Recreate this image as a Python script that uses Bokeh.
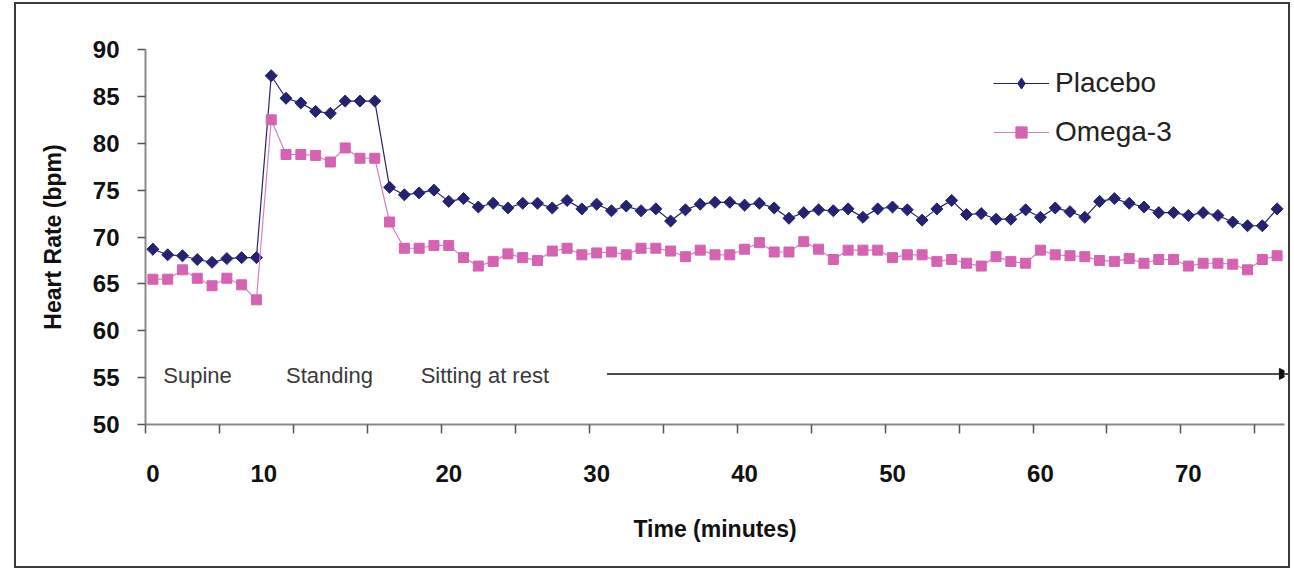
import math
from bokeh.plotting import figure
from bokeh.models import (Range1d, FixedTicker, Legend, LegendItem, Label, Arrow,
                          NormalHead)
from bokeh.embed import file_html
from bokeh.resources import INLINE

# ---------------- data ----------------
time_min = list(range(77))
placebo = [68.7, 68.1, 68.0, 67.6, 67.3, 67.7, 67.8, 67.8, 87.2, 84.8,
           84.3, 83.4, 83.2, 84.5, 84.5, 84.5, 75.3, 74.5, 74.7, 75.0,
           73.8, 74.1, 73.2, 73.6, 73.1, 73.6, 73.6, 73.1, 73.9, 73.0,
           73.5, 72.8, 73.3, 72.8, 73.0, 71.7, 72.9, 73.5, 73.7, 73.7,
           73.4, 73.6, 73.1, 72.0, 72.6, 72.9, 72.8, 73.0, 72.1, 73.0,
           73.2, 72.9, 71.8, 73.0, 73.9, 72.4, 72.5, 71.9, 71.9, 72.9,
           72.1, 73.1, 72.7, 72.1, 73.8, 74.1, 73.6, 73.2, 72.6, 72.6,
           72.3, 72.6, 72.3, 71.6, 71.2, 71.2, 73.0]
omega3 = [65.5, 65.5, 66.5, 65.6, 64.8, 65.6, 64.9, 63.3, 82.5, 78.8,
          78.8, 78.7, 78.0, 79.5, 78.4, 78.4, 71.6, 68.8, 68.8, 69.1,
          69.1, 67.8, 66.9, 67.4, 68.2, 67.8, 67.5, 68.5, 68.8, 68.1,
          68.3, 68.4, 68.1, 68.8, 68.8, 68.5, 67.9, 68.6, 68.1, 68.1,
          68.7, 69.4, 68.4, 68.4, 69.5, 68.7, 67.6, 68.6, 68.6, 68.6,
          67.8, 68.1, 68.1, 67.4, 67.6, 67.2, 66.9, 67.9, 67.4, 67.2,
          68.6, 68.1, 68.0, 67.9, 67.5, 67.4, 67.7, 67.2, 67.6, 67.6,
          66.9, 67.2, 67.2, 67.1, 66.5, 67.6, 68.0]
x_tick_labels = ["0", "10", "20", "30", "40", "50", "60", "70"]
y_ticks = [50, 55, 60, 65, 70, 75, 80, 85, 90]
phase_labels = ["Supine", "Standing", "Sitting at rest"]

# ---------------- layout / style ----------------
FONT = "Liberation Sans"
NAVY = "#25236f"
PINK = "#d463b2"
PINK_LINE = "#d880bc"
AXIS_GREY = "#8a8a8a"

x_label_pos = [0, 7.5, 20, 30, 40, 50, 60, 70]
x_boundaries = [i * 5 - 0.5 for i in range(16)]
phase_x = [0.7, 9.0, 18.1]
phase_y = 55.2

p = figure(width=1276, height=566, output_backend="svg", toolbar_location=None,
           x_range=Range1d(-0.5, 76.5), y_range=Range1d(50, 90),
           min_border_left=129, min_border_right=8, min_border_top=45,
           min_border_bottom=146)
p.styles = {"border": "2px solid #3a3a3a", "margin-left": "14px", "margin-top": "2px"}
p.outline_line_color = None
p.xgrid.visible = False
p.ygrid.visible = False
p.background_fill_color = "white"
p.border_fill_color = "white"

# x axis
xa = p.xaxis[0]
xa.ticker = FixedTicker(ticks=x_label_pos, minor_ticks=x_boundaries)
xa.major_label_overrides = {pos: lab for pos, lab in zip(x_label_pos, x_tick_labels)}
xa.major_tick_in = 0
xa.major_tick_out = 0
xa.minor_tick_in = 0
xa.minor_tick_out = 9
xa.minor_tick_line_color = "#555555"
xa.minor_tick_line_width = 1.5
xa.axis_line_color = AXIS_GREY
xa.axis_line_width = 2
xa.major_label_standoff = 31
xa.major_label_text_font = FONT
xa.major_label_text_font_style = "bold"
xa.major_label_text_font_size = "24px"
xa.major_label_text_color = "#111111"
xa.axis_label = "Time (minutes)"
xa.axis_label_text_font = FONT
xa.axis_label_text_font_style = "bold"
xa.axis_label_text_font_size = "23px"
xa.axis_label_text_color = "#111111"
xa.axis_label_standoff = 31

# y axis
ya = p.yaxis[0]
ya.ticker = FixedTicker(ticks=y_ticks)
ya.major_tick_in = 0
ya.major_tick_out = 8
ya.minor_tick_in = 0
ya.minor_tick_out = 0
ya.major_tick_line_color = "#555555"
ya.major_tick_line_width = 1.5
ya.axis_line_color = AXIS_GREY
ya.axis_line_width = 2
ya.major_label_standoff = 18
ya.major_label_text_font = FONT
ya.major_label_text_font_style = "bold"
ya.major_label_text_font_size = "24px"
ya.major_label_text_color = "#111111"
ya.axis_label = "Heart Rate (bpm)"
ya.axis_label_text_font = FONT
ya.axis_label_text_font_style = "bold"
ya.axis_label_text_font_size = "23px"
ya.axis_label_text_color = "#111111"
ya.axis_label_standoff = 24

# legend key glyph for Placebo (diamond), drawn underneath the first data marker
s1_key = p.scatter(time_min[:1], placebo[:1], marker="diamond", size=12,
                   fill_color=NAVY, line_color=NAVY)

# series
l1 = p.line(time_min, placebo, line_color=NAVY, line_width=1.2)
s1 = p.scatter(time_min, placebo, marker="square", size=8.5, angle=math.pi / 4,
               fill_color=NAVY, line_color=NAVY)
l2 = p.line(time_min, omega3, line_color=PINK_LINE, line_width=1.2)
s2 = p.scatter(time_min, omega3, marker="square", size=10,
               fill_color=PINK, line_color=PINK)

legend = Legend(items=[LegendItem(label="Placebo", renderers=[l1, s1_key]),
                       LegendItem(label="Omega-3", renderers=[l2, s2])],
                location=(848, 276), padding=0, margin=0, spacing=17,
                glyph_width=56, glyph_height=28, label_height=20,
                label_standoff=6, label_text_font=FONT,
                label_text_font_size="28px", label_text_color="#222222",
                border_line_alpha=0, background_fill_alpha=0)
p.add_layout(legend)

for txt, xx in zip(phase_labels, phase_x):
    p.add_layout(Label(x=xx, y=phase_y, text=txt, text_font=FONT,
                       text_font_size="22px", text_color="#3a3a3a",
                       text_baseline="middle", text_align="left"))

p.add_layout(Arrow(end=NormalHead(size=11, fill_color="#111111", line_color="#111111"),
                   x_start=30.7, y_start=55.4, x_end=76.9, y_end=55.4,
                   line_color="#111111", line_width=1.5))

open("out.html", "w").write(file_html(p, INLINE))
